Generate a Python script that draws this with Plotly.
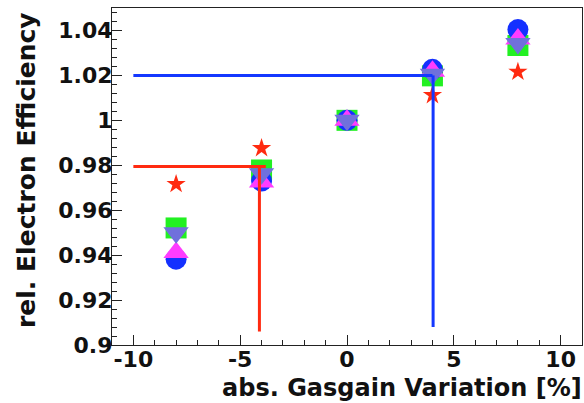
import plotly.graph_objects as go

# ---- data ----
gain_variation = [-8, -4, 0, 4, 8]
eff_green_square = [0.9521, 0.9779, 1.0, 1.0198, 1.0333]
eff_blue_circle = [0.9382, 0.9730, 1.0, 1.0227, 1.0404]
eff_magenta_up = [0.9412, 0.9725, 1.0, 1.0218, 1.0362]
eff_slate_down = [0.9500, 0.9762, 1.0, 1.0205, 1.0342]
eff_red_star = [0.9716, 0.9876, 1.0, 1.0112, 1.0216]

red_h_x = [-10, -3.8]
red_h_y = [0.9795, 0.9795]
red_v_x = [-4.1, -4.1]
red_v_y = [0.9795, 0.906]
blue_h_x = [-10, 4.0]
blue_h_y = [1.02, 1.02]
blue_v_x = [4.03, 4.03]
blue_v_y = [1.02, 0.908]

x_tickvals = [-10, -5, 0, 5, 10]
x_ticktext = ["-10", "-5", "0", "5", "10"]
y_tickvals = [0.9, 0.92, 0.94, 0.96, 0.98, 1.0, 1.02, 1.04]
y_ticktext = ["0.9", "0.92", "0.94", "0.96", "0.98", "1", "1.02", "1.04"]

FONT = "DejaVu Sans"

fig = go.Figure()

def add_markers(y, symbol, color, size):
    fig.add_trace(go.Scatter(
        x=gain_variation, y=y, mode="markers",
        marker=dict(symbol=symbol, color=color, size=size, line=dict(width=0)),
        showlegend=False, hoverinfo="skip"))

add_markers(eff_red_star, "star", "#ff2a10", 14.5)
add_markers(eff_green_square, "square", "#22f022", 21)
add_markers(eff_blue_circle, "circle", "#1430ff", 21)
add_markers(eff_magenta_up, "triangle-up", "#ff3cff", 22)
add_markers(eff_slate_down, "triangle-down", "#7070dc", 22)

def add_line(xs, ys, color):
    fig.add_trace(go.Scatter(
        x=xs, y=ys, mode="lines", line=dict(color=color, width=3),
        showlegend=False, hoverinfo="skip"))

add_line(red_h_x, red_h_y, "#ff2a10")
add_line(red_v_x, red_v_y, "#ff2a10")
add_line(blue_h_x, blue_h_y, "#1438ff")
add_line(blue_v_x, blue_v_y, "#1438ff")

axis_common = dict(
    showline=True, linecolor="#222222", linewidth=1.2, mirror=True,
    showgrid=False, zeroline=False,
    ticks="inside", ticklen=10, tickwidth=1, tickcolor="#222222",
    tickfont=dict(family=FONT, size=22, color="#111111", weight="bold"),
)

fig.update_xaxes(
    range=[-11, 11], tickmode="array", tickvals=x_tickvals, ticktext=x_ticktext,
    ticklabelstandoff=-6,
    minor=dict(dtick=1, tick0=0, ticks="inside", ticklen=5, tickcolor="#222222"),
    **axis_common)
fig.update_yaxes(
    range=[0.9, 1.05], tickmode="array", tickvals=y_tickvals, ticktext=y_ticktext,
    ticklabelstandoff=-6,
    minor=dict(dtick=0.004, tick0=0.9, ticks="inside", ticklen=5, tickcolor="#222222"),
    **axis_common)

fig.add_annotation(
    text="abs. Gasgain Variation [%]", xref="paper", yref="paper",
    x=1.003, y=-0.171, xanchor="right", yanchor="bottom", showarrow=False,
    borderpad=0,
    font=dict(family=FONT, size=24, color="#111111", weight="bold"))
fig.add_annotation(
    text="rel. Electron Efficiency", xref="paper", yref="paper",
    x=-0.183, y=0.994, xanchor="center", yanchor="top", textangle=-90,
    showarrow=False,
    font=dict(family=FONT, size=25, color="#111111", weight="bold"))

fig.update_layout(
    width=584, height=403,
    margin=dict(l=112, r=2, t=8, b=58),
    paper_bgcolor="white", plot_bgcolor="white",
    showlegend=False,
)

fig.write_html(
    "out.html",
    config={"displayModeBar": False},
    post_script="document.body.style.margin='0';document.body.style.padding='0';document.body.style.overflow='hidden';",
)
